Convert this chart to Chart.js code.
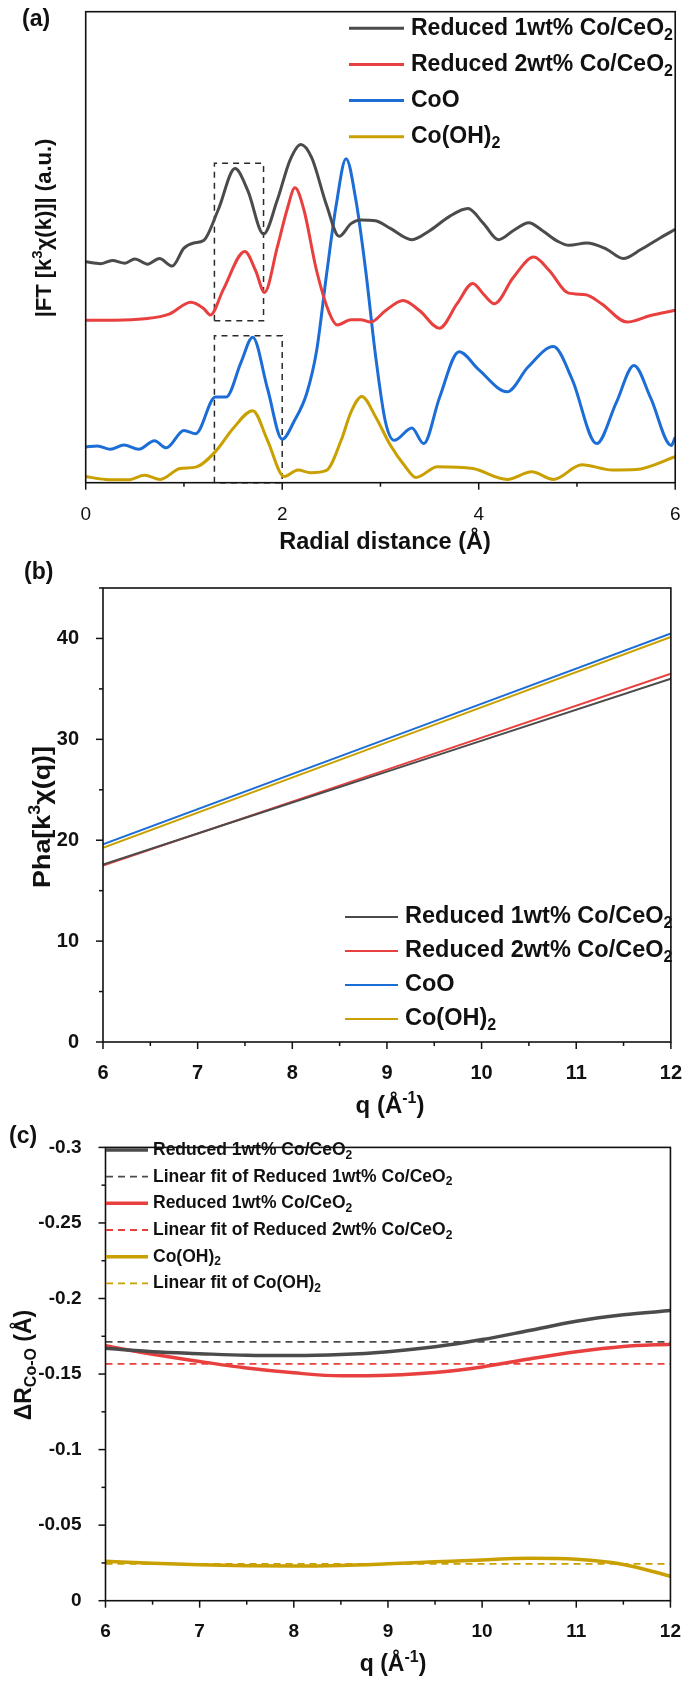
<!DOCTYPE html>
<html>
<head>
<meta charset="utf-8">
<script src="https://cdn.jsdelivr.net/npm/chart.js@4.4.1/dist/chart.umd.min.js"></script>
<style>
  html, body { margin: 0; padding: 0; background: #fff; }
  body { width: 693px; height: 1681px; position: relative; overflow: hidden; }
  .panel { position: absolute; left: 0; width: 693px; }
</style>
</head>
<body>
<div class="panel" style="top:0;height:560px"><canvas id="chartA"></canvas></div>
<div class="panel" style="top:560px;height:560px"><canvas id="chartB"></canvas></div>
<div class="panel" style="top:1120px;height:561px"><canvas id="chartC"></canvas></div>
<script>
// ---- (a) FT magnitude, arbitrary units (0 = axis, 100 = top of frame)
const radialBlack = [0,0.15,0.27,0.4,0.5,0.63,0.75,0.88,1.0,1.1,1.2,1.35,1.52,1.65,1.81,1.95,2.08,2.19,2.3,2.45,2.58,2.7,2.8,2.95,3.1,3.32,3.5,3.7,3.89,4.05,4.2,4.35,4.51,4.65,4.8,4.92,5.1,5.3,5.47,5.65,5.85,6.0];
const ftBlack = [46.9,46.5,47.2,46.6,47.5,46.4,47.6,46.0,49.8,50.9,51.4,58.0,66.7,62.0,52.8,60.0,68.5,71.8,69.0,59.0,52.3,55.0,55.8,55.6,54.0,51.6,53.5,56.5,58.2,55.0,51.6,53.5,55.2,53.5,51.3,50.4,50.9,49.6,47.6,49.5,52.0,53.8];

const radialRed = [0,0.3,0.6,0.85,1.07,1.2,1.27,1.4,1.62,1.73,1.82,1.95,2.05,2.13,2.22,2.35,2.48,2.56,2.7,2.8,2.9,3.05,3.23,3.4,3.6,3.78,3.94,4.05,4.16,4.35,4.56,4.72,4.91,5.09,5.25,5.51,5.75,6.0];
const ftRed = [34.5,34.5,34.8,35.8,38.3,37.0,35.6,41.0,49.1,45.0,40.4,50.0,58.0,62.6,58.0,45.0,36.0,33.5,34.6,34.6,34.1,36.5,38.7,36.5,32.8,38.0,42.3,40.0,38.0,43.5,47.9,45.0,40.3,39.9,38.0,34.1,35.5,36.6];

const radialBlue = [0,0.12,0.25,0.39,0.54,0.7,0.82,1.0,1.12,1.32,1.43,1.58,1.7,1.85,2.0,2.12,2.25,2.35,2.45,2.55,2.65,2.75,2.85,2.95,3.05,3.14,3.32,3.44,3.6,3.8,4.0,4.29,4.5,4.76,4.95,5.2,5.4,5.58,5.75,5.96,6.0];
const ftBlue = [7.6,7.8,7.1,8.0,7.1,8.9,7.4,11.1,10.4,18.2,18.2,25.5,30.9,20.0,9.2,13.0,19.0,28.0,44.0,59.0,68.8,60.0,45.0,27.0,13.0,9.0,11.6,8.3,18.0,27.8,24.0,19.3,24.5,28.9,22.0,8.3,17.0,24.9,18.0,7.9,9.7];

const radialGold = [0,0.2,0.43,0.6,0.76,0.96,1.12,1.32,1.5,1.7,1.85,2.02,2.16,2.29,2.45,2.6,2.7,2.81,2.95,3.1,3.25,3.36,3.58,3.94,4.29,4.54,4.76,5.05,5.36,5.6,6.0];
const ftGold = [1.3,0.7,0.6,1.6,0.7,3.0,3.3,6.6,11.5,15.3,9.0,1.3,2.7,2.1,2.6,9.0,15.0,18.3,14.0,8.0,3.5,1.1,3.4,3.0,0.7,2.3,0.7,3.8,2.7,2.8,5.5];

// dashed selection boxes in (a)
const box1X = [1.31, 1.31, 1.81, 1.81, 1.31];
const box1Y = [34.4, 67.8, 67.8, 34.4, 34.4];
const box2X = [1.31, 1.31, 2.0, 2.0, 1.31];
const box2Y = [0, 31.2, 31.2, 0, 0];

// ---- (b) phase
const qPhase = [6, 9, 12];
const phaBlack = [17.6, 26.8, 36.0];
const phaRed = [17.5, 27.0, 36.5];
const phaBlue = [19.6, 30.05, 40.5];
const phaGold = [19.25, 29.7, 40.15];

// ---- (c) delta R
const qDelta = [6,6.5,7,7.5,8,8.5,9,9.5,10,10.5,11,11.5,12];
const dBlack = [-0.1670,-0.1648,-0.1635,-0.1624,-0.1622,-0.1629,-0.1648,-0.1680,-0.1728,-0.1788,-0.1849,-0.1892,-0.1920];
const dRed = [-0.1687,-0.1631,-0.1583,-0.1540,-0.1508,-0.1488,-0.1492,-0.1510,-0.1547,-0.1600,-0.1648,-0.1683,-0.1698];
const dGold = [-0.0261,-0.0248,-0.0238,-0.0231,-0.0229,-0.0233,-0.0244,-0.0257,-0.0270,-0.0281,-0.0274,-0.0240,-0.0162];
const qFit = [6, 12];
const fitBlack = [-0.1713, -0.1713];
const fitRed = [-0.1568, -0.1568];
const fitGold = [-0.0244, -0.0244];

const labelsAB = ['Reduced 1wt% Co/CeO₂', 'Reduced 2wt% Co/CeO₂', 'CoO', 'Co(OH)₂'];
const labelsC = ['Reduced 1wt% Co/CeO₂', 'Linear fit of Reduced 1wt% Co/CeO₂', 'Reduced 1wt% Co/CeO₂',
	'Linear fit of Reduced 2wt% Co/CeO₂', 'Co(OH)₂', 'Linear fit of Co(OH)₂'];

const FONT = "'Liberation Sans', Arial, Helvetica, sans-serif";
const INK = '#111111';
const C_BLACK = '#4b4b4b';
const C_RED = '#e8403e';
const C_BLUE = '#1c6dd6';
const C_GOLD = '#c9a000';

function zip(xs, ys) {
	return xs.map((x, i) => ({x: x, y: ys[i]}));
}

// text with sub/superscripts (unicode digits or _{...})
const SUB = {'₀':'0','₁':'1','₂':'2','₃':'3','₄':'4','₅':'5','₆':'6','₇':'7','₈':'8','₉':'9'};
const SUP = {'⁰':'0','¹':'1','²':'2','³':'3','⁴':'4','⁵':'5','⁶':'6','⁷':'7','⁸':'8','⁹':'9','⁻':'-'};

function splitRuns(text) {
	let runs = [];
	const push = (t, kind) => {
		let last = runs[runs.length - 1];
		if(last && last.kind === kind) last.t += t;
		else runs.push({t: t, kind: kind});
	};
	let i = 0;
	while(i < text.length) {
		const ch = text[i];
		if(ch === '_' && text[i + 1] === '{') {
			const j = text.indexOf('}', i);
			push(text.slice(i + 2, j), 'sub');
			i = j + 1;
			continue;
		}
		if(SUB[ch]) push(SUB[ch], 'sub');
		else if(SUP[ch]) push(SUP[ch], 'sup');
		else push(ch, 'n');
		i++;
	}
	return runs;
}

function drawRich(ctx, text, x, y, size, align, weight) {
	const runs = splitRuns(text);
	const fontFor = kind => weight + ' ' + (kind === 'n' ? size : Math.round(size * 0.68)) + 'px ' + FONT;
	let w = 0;
	runs.forEach(r => {
		ctx.font = fontFor(r.kind);
		r.w = ctx.measureText(r.t).width;
		w += r.w;
	});
	let cx = align === 'center' ? x - w / 2 : (align === 'right' ? x - w : x);
	ctx.textAlign = 'left';
	ctx.textBaseline = 'middle';
	runs.forEach(r => {
		ctx.font = fontFor(r.kind);
		const dy = r.kind === 'sub' ? size * 0.3 : (r.kind === 'sup' ? -size * 0.32 : 0);
		ctx.fillText(r.t, cx, y + dy);
		cx += r.w;
	});
}

function drawTicks(ctx, scale, major, minor, axis, area) {
	const lo = Math.min(scale.min, scale.max);
	const hi = Math.max(scale.min, scale.max);
	const n = Math.round((hi - lo) / minor);
	for(let k = 0; k <= n; k++) {
		const v = lo + k * minor;
		const isMajor = Math.abs(v / major - Math.round(v / major)) < 1e-6;
		const len = isMajor ? 7 : 4;
		const p = scale.getPixelForValue(v);
		ctx.beginPath();
		if(axis === 'x') {
			ctx.moveTo(p, area.bottom);
			ctx.lineTo(p, area.bottom + len);
		} else {
			ctx.moveTo(area.left, p);
			ctx.lineTo(area.left - len, p);
		}
		ctx.stroke();
	}
}

// frame, ticks, legend and titles
const panelDecor = {
	id: 'panelDecor',
	afterDatasetsDraw(chart, args, o) {
		const ctx = chart.ctx;
		const area = chart.chartArea;
		ctx.save();
		ctx.setLineDash([]);
		ctx.strokeStyle = INK;
		ctx.lineWidth = 1.6;
		ctx.strokeRect(area.left, area.top, area.right - area.left, area.bottom - area.top);
		ctx.lineWidth = 1.5;
		drawTicks(ctx, chart.scales.x, o.xMajor, o.xMinor, 'x', area);
		if(o.yMajor) drawTicks(ctx, chart.scales.y, o.yMajor, o.yMinor, 'y', area);

		const lg = o.legend;
		let row = 0;
		chart.data.datasets.forEach(ds => {
			if(!ds.label) return;
			const y = lg.rows[row++];
			ctx.strokeStyle = ds.borderColor;
			ctx.lineWidth = ds.borderWidth;
			ctx.setLineDash(ds.borderDash || []);
			ctx.beginPath();
			ctx.moveTo(lg.x0, y);
			ctx.lineTo(lg.x1, y);
			ctx.stroke();
			ctx.setLineDash([]);
			ctx.fillStyle = INK;
			drawRich(ctx, ds.label, lg.textX, y, lg.size, 'left', 'bold');
		});

		ctx.fillStyle = INK;
		o.titles.forEach(t => {
			if(t.rotate) {
				ctx.save();
				ctx.translate(t.x, t.y);
				ctx.rotate(-Math.PI / 2);
				ctx.scale(t.stretch || 1, 1);
				drawRich(ctx, t.text, 0, 0, t.size, 'center', 'bold');
				ctx.restore();
			} else {
				drawRich(ctx, t.text, t.x, t.y, t.size, t.align || 'center', 'bold');
			}
		});
		ctx.restore();
	}
};

function lineSet(label, xs, ys, color, width, dash) {
	return {
		label: label,
		data: zip(xs, ys),
		borderColor: color,
		backgroundColor: color,
		borderWidth: width,
		borderDash: dash || [],
		pointRadius: 0,
		fill: false,
		cubicInterpolationMode: 'monotone',
		tension: 0.4
	};
}

function boxSet(xs, ys) {
	return {
		label: '',
		data: zip(xs, ys),
		borderColor: '#2a2a2a',
		borderWidth: 1.5,
		borderDash: [6, 5],
		pointRadius: 0,
		fill: false,
		tension: 0,
		clip: 4
	};
}

function baseOptions(extra) {
	return Object.assign({
		responsive: true,
		maintainAspectRatio: false,
		animation: false,
		events: [],
		plugins: {
			legend: {display: false},
			tooltip: {enabled: false}
		}
	}, extra);
}

// (a)
new Chart(document.getElementById('chartA'), {
	type: 'line',
	plugins: [panelDecor],
	data: {
		datasets: [
			lineSet(labelsAB[0], radialBlack, ftBlack, C_BLACK, 3),
			lineSet(labelsAB[1], radialRed, ftRed, C_RED, 3),
			lineSet(labelsAB[2], radialBlue, ftBlue, C_BLUE, 3),
			lineSet(labelsAB[3], radialGold, ftGold, C_GOLD, 3),
			boxSet(box1X, box1Y),
			boxSet(box2X, box2Y)
		]
	},
	options: baseOptions({
		layout: {padding: {left: 85.7, top: 11.7, right: 9, bottom: 0}},
		scales: {
			x: {
				type: 'linear', min: 0, max: 6,
				grid: {display: false}, border: {display: false},
				ticks: {stepSize: 2, color: INK, padding: 12.5, maxRotation: 0, autoSkip: false,
					font: {family: FONT, size: 19}},
				afterFit: scale => { scale.height = 77.3; }
			},
			y: {type: 'linear', min: 0, max: 100, display: false}
		},
		plugins: {
			legend: {display: false},
			tooltip: {enabled: false},
			panelDecor: {
				xMajor: 2, xMinor: 1,
				legend: {x0: 349, x1: 404, textX: 411, size: 23, rows: [28.3, 64.5, 100.6, 136.7]},
				titles: [
					{text: '(a)', x: 22, y: 20, size: 23, align: 'left'},
					{text: 'Radial distance (Å)', x: 385, y: 543, size: 23.5},
					{text: '|FT [k³χ(k)]| (a.u.)', x: 45, y: 228, size: 22, rotate: true}
				]
			}
		}
	})
});

// (b)
new Chart(document.getElementById('chartB'), {
	type: 'line',
	plugins: [panelDecor],
	data: {
		datasets: [
			lineSet(labelsAB[0], qPhase, phaBlack, C_BLACK, 2),
			lineSet(labelsAB[1], qPhase, phaRed, C_RED, 2),
			lineSet(labelsAB[2], qPhase, phaBlue, C_BLUE, 2),
			lineSet(labelsAB[3], qPhase, phaGold, C_GOLD, 2)
		]
	},
	options: baseOptions({
		layout: {padding: {left: 0, top: 17.3, right: 15, bottom: 0}},
		scales: {
			x: {
				type: 'linear', min: 6, max: 12,
				grid: {display: false}, border: {display: false},
				ticks: {stepSize: 1, color: INK, padding: 11, maxRotation: 0, autoSkip: false,
					font: {family: FONT, size: 20, weight: 'bold'}},
				afterFit: scale => { scale.height = 78; }
			},
			y: {
				type: 'linear', min: 0, max: 45,
				grid: {display: false}, border: {display: false},
				ticks: {stepSize: 10, includeBounds: false, color: INK, padding: 16,
					font: {family: FONT, size: 20, weight: 'bold'}},
				afterFit: scale => { scale.width = 103; }
			}
		},
		plugins: {
			legend: {display: false},
			tooltip: {enabled: false},
			panelDecor: {
				xMajor: 1, xMinor: 0.5, yMajor: 10, yMinor: 5,
				legend: {x0: 345, x1: 398, textX: 405, size: 23.5, rows: [357, 391, 425, 459]},
				titles: [
					{text: '(b)', x: 24, y: 13, size: 23, align: 'left'},
					{text: 'q (Å⁻¹)', x: 390, y: 546.7, size: 24},
					{text: 'Pha[k³χ(q)]', x: 43, y: 257, size: 24, rotate: true, stretch: 1.12}
				]
			}
		}
	})
});

// (c)
new Chart(document.getElementById('chartC'), {
	type: 'line',
	plugins: [panelDecor],
	data: {
		datasets: [
			lineSet(labelsC[0], qDelta, dBlack, C_BLACK, 3.5),
			lineSet(labelsC[1], qFit, fitBlack, C_BLACK, 1.8, [7, 5]),
			lineSet(labelsC[2], qDelta, dRed, C_RED, 3.5),
			lineSet(labelsC[3], qFit, fitRed, C_RED, 1.8, [7, 5]),
			lineSet(labelsC[4], qDelta, dGold, C_GOLD, 3.5),
			lineSet(labelsC[5], qFit, fitGold, C_GOLD, 1.8, [7, 5])
		]
	},
	options: baseOptions({
		layout: {padding: {left: 0, top: 16.7, right: 12, bottom: 0}},
		scales: {
			x: {
				type: 'linear', min: 6, max: 12,
				grid: {display: false}, border: {display: false},
				ticks: {stepSize: 1, color: INK, padding: 12, maxRotation: 0, autoSkip: false,
					font: {family: FONT, size: 19, weight: 'bold'}},
				afterFit: scale => { scale.height = 80.3; }
			},
			y: {
				type: 'linear', min: -0.3, max: 0, reverse: true,
				grid: {display: false}, border: {display: false},
				ticks: {stepSize: 0.05, color: INK, padding: 16,
					font: {family: FONT, size: 19, weight: 'bold'},
					callback: function(value) {
						return String(+value.toFixed(3));
					}},
				afterFit: scale => { scale.width = 105.5; }
			}
		},
		plugins: {
			legend: {display: false},
			tooltip: {enabled: false},
			panelDecor: {
				xMajor: 1, xMinor: 0.5, yMajor: 0.05, yMinor: 0.025,
				legend: {x0: 106, x1: 148, textX: 153, size: 17.5, rows: [30, 56.7, 83.3, 110, 136.7, 163.3]},
				titles: [
					{text: '(c)', x: 9, y: 16.7, size: 23, align: 'left'},
					{text: 'q (Å⁻¹)', x: 393, y: 545, size: 23},
					{text: 'ΔR_{Co-O} (Å)', x: 25, y: 245, size: 23, rotate: true}
				]
			}
		}
	})
});
</script>
</body>
</html>
